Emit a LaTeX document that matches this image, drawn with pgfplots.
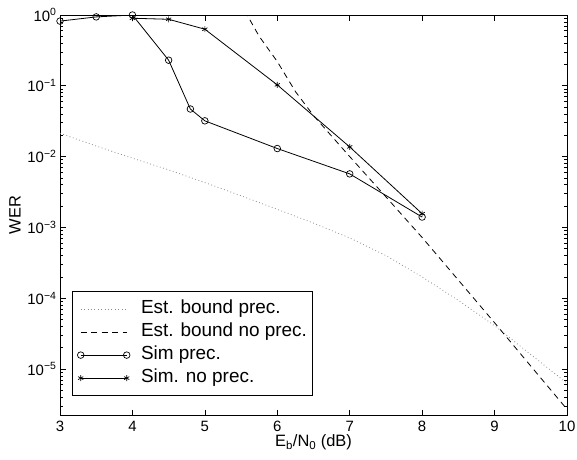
\documentclass[border=0pt]{standalone}
\usepackage{fontspec}
\setmainfont{Liberation Sans}
\usepackage{pgfplots}
\pgfplotsset{compat=1.18}

\begin{document}
\begin{tikzpicture}
\begin{axis}[
  scale only axis,
  width=507bp, height=400bp,
  ymode=log,
  xmin=3, xmax=10,
  ymin=2.24e-6, ymax=1,
  xtick={3,4,5,6,7,8,9,10},
  ytick={1e-5,1e-4,1e-3,1e-2,1e-1,1},
  yticklabels={10\textsuperscript{−5},10\textsuperscript{−4},10\textsuperscript{−3},10\textsuperscript{−2},10\textsuperscript{−1},10\textsuperscript{0}},
  minor ytick={3e-6,4e-6,5e-6,6e-6,7e-6,8e-6,9e-6,
    2e-5,3e-5,4e-5,5e-5,6e-5,7e-5,8e-5,9e-5,
    2e-4,3e-4,4e-4,5e-4,6e-4,7e-4,8e-4,9e-4,
    2e-3,3e-3,4e-3,5e-3,6e-3,7e-3,8e-3,9e-3,
    2e-2,3e-2,4e-2,5e-2,6e-2,7e-2,8e-2,9e-2,
    0.2,0.3,0.4,0.5,0.6,0.7,0.8,0.9},
  tick align=inside,
  major tick length=5.5bp,
  minor tick length=3bp,
  every tick/.style={black, line width=0.7bp},
  axis line style={line width=0.9bp},
  /pgf/number format/assume math mode=true,
  tick label style={font=\fontsize{15}{17}\selectfont},
  xticklabel style={yshift=-3bp},
  label style={font=\fontsize{16.5}{19}\selectfont},
  xlabel style={yshift=4bp},
  xlabel={E\textsubscript{b}/N\textsubscript{0} (dB)},
  ylabel={WER},
  legend cell align=left,
  legend style={at={(0.0237,0.0475)}, anchor=south west,
    draw=black, line width=0.8bp, inner xsep=5bp, inner ysep=9bp,
    row sep=6bp,
    nodes={inner sep=0bp, text height=13bp, text depth=4bp,
      font=\fontsize{19}{21}\selectfont},
    /tikz/every odd column/.append style={column sep=11bp}},
  legend image code/.code={\draw[#1] plot coordinates {(0bp,0bp) (46bp,0bp)};},
]
% estimated bound, with precoding
\addplot[black!45, line width=0.8bp, dash pattern=on 0.8bp off 2.6bp] coordinates {
  (3,0.0214)(3.5,0.0141)(4,0.0095)(4.5,0.0065)(5,0.0043)(5.5,0.0028)
  (6,0.0018)(6.5,0.00115)(7,7.1e-4)(7.5,4.0e-4)(8,2.0e-4)(8.5,9.3e-5)
  (9,4.1e-5)(9.5,1.6e-5)(10,6.3e-6)};
\addlegendentry{Est. bound prec.}
% estimated bound, no precoding
\addplot[black, line width=0.8bp, dash pattern=on 6bp off 4.5bp] coordinates {
  (5.55,1.15)(5.75,0.50)(6,0.22)(6.25,0.083)(6.5,0.038)(7,0.010)
  (7.5,0.0027)(8,7.2e-4)(8.5,1.8e-4)(9,4.5e-5)(9.5,1.1e-5)(10,2.7e-6)};
\addlegendentry{Est. bound no prec.}
% simulation, with precoding
\addplot[black, line width=0.8bp, mark=o, mark size=3.3bp,
  mark options={solid, line width=0.7bp}] coordinates {
  (3,0.82)(3.5,0.94)(4,1.0)(4.5,0.23)(4.8,0.047)(5,0.032)
  (6,0.013)(7,0.0057)(8,0.0014)};
\addlegendentry{Sim prec.}
% simulation, no precoding
\addplot[black, line width=0.8bp, mark=asterisk, mark size=3bp,
  mark options={solid, line width=0.7bp}] coordinates {
  (4,0.90)(4.5,0.87)(5,0.63)(6,0.103)(7,0.0137)(8,0.00156)};
\addlegendentry{Sim. no prec.}
\end{axis}
\pgfresetboundingbox
\path[use as bounding box] (current axis.south west) ++(-60bp,-44bp)
  rectangle ([shift={(10bp,15bp)}]current axis.north east);
\end{tikzpicture}
\end{document}
